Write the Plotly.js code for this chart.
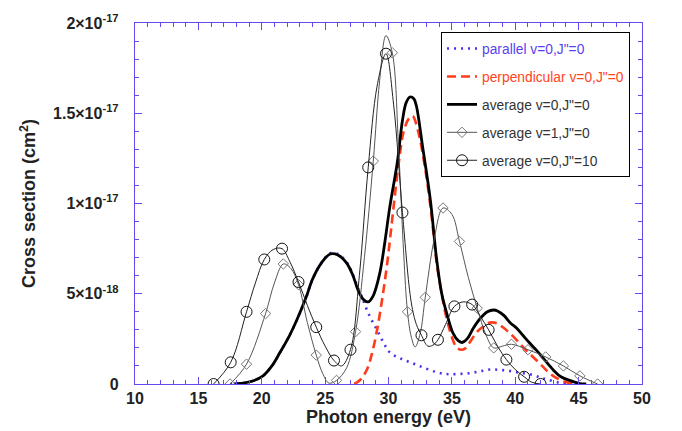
<!DOCTYPE html>
<html>
<head>
<meta charset="utf-8">
<script src="https://cdn.plot.ly/plotly-3.0.1.min.js"></script>
<style>html,body{margin:0;padding:0;background:#fff;}#chart{width:682px;height:431px;}</style>
</head>
<body>
<div id="chart"></div>
<script>
// Values in units of 1e-18 cm^2
var SCALE = 1e-18;

// parallel v=0,J"=0
var parX = [17.5, 18.3, 19.2, 20.1, 20.8, 21.4, 22.2, 22.8, 23.5, 24.0, 24.7, 25.4, 26.0, 26.7, 27.2, 27.6, 28.0, 28.3, 28.7, 29.1, 29.6, 30.1, 31.0, 31.9, 32.8, 33.8, 34.6, 35.4, 36.4, 37.2, 38.0, 38.8, 39.6, 40.4, 41.4, 42.0, 42.5, 43.3, 44.0, 45.0];
var parY = [0, 0.03, 0.15, 0.45, 1.0, 1.7, 2.7, 3.6, 4.8, 5.8, 6.7, 7.25, 7.2, 6.75, 6.05, 5.3, 4.65, 4.1, 3.5, 3.0, 2.3, 1.75, 1.4, 1.15, 0.9, 0.65, 0.55, 0.55, 0.6, 0.7, 0.8, 0.78, 0.72, 0.62, 0.5, 0.35, 0.25, 0.1, 0.03, 0];

// perpendicular v=0,J"=0
var perpX = [27.3, 27.8, 28.3, 28.7, 29.1, 29.5, 29.9, 30.4, 30.8, 31.2, 31.6, 31.9, 32.3, 32.9, 33.4, 33.8, 34.2, 34.5, 35.0, 35.4, 35.8, 36.1, 36.4, 37.0, 37.5, 38.0, 38.6, 39.1, 39.6, 40.1, 40.6, 41.1, 41.7, 42.2, 42.7, 43.2, 43.8, 44.6];
var perpY = [0, 0.25, 0.8, 1.7, 3.0, 4.7, 6.7, 9.8, 12.2, 14.0, 14.7, 14.85, 14.1, 11.9, 9.3, 6.7, 5.0, 3.9, 2.6, 2.0, 1.9, 2.0, 2.3, 2.9, 3.2, 3.4, 3.35, 3.1, 2.8, 2.45, 2.05, 1.7, 1.3, 0.95, 0.6, 0.35, 0.15, 0];

// average v=0,J"=0
var avgX = [17.8, 18.3, 19.2, 20.1, 20.8, 21.4, 22.2, 22.8, 23.5, 24.0, 24.7, 25.4, 26.0, 26.7, 27.2, 27.6, 28.0, 28.4, 28.8, 29.3, 29.7, 30.1, 30.7, 31.1, 31.4, 31.7, 32.0, 32.2, 32.7, 33.3, 33.8, 34.2, 34.6, 35.1, 35.5, 35.8, 36.2, 36.7, 37.2, 37.8, 38.3, 38.6, 39.1, 39.6, 40.1, 40.6, 41.1, 41.7, 42.3, 43.0, 43.6, 44.3, 45.1, 45.6];
var avgY = [0, 0.03, 0.15, 0.45, 1.0, 1.7, 2.7, 3.6, 4.8, 5.8, 6.7, 7.2, 7.15, 6.7, 6.0, 5.2, 4.7, 4.55, 4.9, 6.1, 7.8, 9.8, 12.3, 14.6, 15.6, 15.9, 15.8, 15.4, 13.1, 10.2, 6.9, 5.0, 3.9, 2.8, 2.4, 2.3, 2.5, 3.1, 3.6, 4.0, 4.1, 4.05, 3.8, 3.4, 3.1, 2.7, 2.3, 1.85, 1.35, 0.78, 0.4, 0.2, 0.02, 0];

// average v=1,J"=0 : curve and the energies carrying a diamond symbol
var v1X = [17.5, 18.8, 20.3, 21.0, 21.7, 22.3, 22.9, 23.6, 24.3, 24.8, 25.3, 25.9, 26.7, 27.4, 28.1, 28.8, 29.3, 29.8, 30.3, 30.8, 31.2, 31.5, 31.8, 32.1, 32.5, 32.9, 33.6, 34.3, 35.0, 35.6, 36.3, 37.0, 37.7, 38.3, 39.0, 39.7, 41.0, 42.4, 43.8, 45.1, 46.5];
var v1Y = [0, 1.1, 3.9, 5.6, 6.65, 6.4, 5.5, 3.4, 1.6, 0.6, 0.05, 0.2, 0.9, 2.9, 7.0, 12.35, 16.8, 19.3, 18.35, 13.0, 7.2, 4.0, 2.6, 2.05, 2.8, 4.8, 8.0, 9.75, 9.4, 7.9, 5.9, 4.2, 2.7, 2.0, 2.1, 2.2, 1.9, 1.5, 1.0, 0.45, 0];
var v1MarkX = [17.5, 18.8, 20.3, 21.7, 22.9, 24.3, 25.9, 27.4, 28.8, 30.3, 31.5, 32.9, 34.3, 35.6, 37.0, 38.3, 39.7, 41.0, 42.4, 43.8, 45.1, 46.5];

// average v=0,J"=10 : curve and the energies carrying a circle symbol
var j10X = [16.2, 17.55, 18.8, 19.5, 20.2, 20.9, 21.6, 22.2, 22.9, 23.6, 24.3, 25.0, 25.7, 26.3, 27.0, 27.7, 28.4, 29.1, 29.8, 30.4, 31.1, 31.8, 32.2, 32.6, 33.1, 33.5, 33.9, 34.5, 35.2, 35.9, 36.6, 37.2, 37.9, 38.6, 39.3, 40.0, 40.7, 41.3, 42.0];
var j10Y = [0, 1.2, 4.0, 5.6, 6.9, 7.45, 7.5, 6.8, 5.65, 4.35, 3.15, 2.1, 1.3, 1.0, 1.9, 6.0, 12.0, 16.5, 18.3, 15.5, 9.5, 4.5, 3.3, 2.7, 2.1, 2.15, 2.45, 3.3, 4.3, 4.55, 4.4, 3.8, 3.0, 2.1, 1.35, 0.8, 0.4, 0.1, 0];
var j10MarkX = [16.2, 17.55, 18.8, 20.2, 21.6, 22.9, 24.3, 25.7, 27.0, 28.4, 29.8, 31.1, 32.6, 33.9, 35.2, 36.6, 37.9, 39.3, 40.7, 42.0];

var seriesNames = ['parallel v=0,J"=0', 'perpendicular v=0,J"=0', 'average v=0,J"=0', 'average v=1,J"=0', 'average v=0,J"=10'];
var yTickVals = [0, 5, 10, 15, 20];
var yTickText = ['0', '5×10<sup>-18</sup>', '1×10<sup>-17</sup>', '1.5×10<sup>-17</sup>', '2×10<sup>-17</sup>'];

function sc(a) { return a.map(function (v) { return v * SCALE; }); }
function markColors(xs, marks, col) {
  return xs.map(function (x) { return marks.indexOf(x) >= 0 ? col : 'rgba(0,0,0,0)'; });
}

var BLUE = '#4a2ff0', RED = '#ff3b1c', AXIS = '#6548ee';

var traces = [
  { x: parX, y: sc(parY), mode: 'lines', line: { color: BLUE, width: 2.6, dash: '2px,5px', shape: 'spline' },
    name: '<span style="color:#5a3ff0">' + seriesNames[0] + '</span>', legendgroup: 'g1' },
  { x: perpX, y: sc(perpY), mode: 'lines', line: { color: RED, width: 2.6, dash: '9px,5px', shape: 'spline' },
    name: '<span style="color:#ff4422">' + seriesNames[1] + '</span>', legendgroup: 'g2' },
  { x: avgX, y: sc(avgY), mode: 'lines', line: { color: '#000', width: 2.8, shape: 'spline' },
    name: seriesNames[2], legendgroup: 'g3' },
  { x: v1X, y: sc(v1Y), mode: 'lines+markers', line: { color: '#555', width: 1, shape: 'spline' },
    marker: { symbol: 'diamond-open', size: 8, color: markColors(v1X, v1MarkX, '#777'), line: { width: 1 } },
    name: seriesNames[3], legendgroup: 'g4' },
  { x: j10X, y: sc(j10Y), mode: 'lines+markers', line: { color: '#222', width: 1, shape: 'spline' },
    marker: { symbol: 'circle-open', size: 11, color: markColors(j10X, j10MarkX, '#111'), line: { width: 1 } },
    name: seriesNames[4], legendgroup: 'g5' }
];

var tickFont = { family: 'Liberation Sans, Arial, sans-serif', size: 16, weight: 'bold', color: '#222' };
var titleFont = { family: 'Liberation Sans, Arial, sans-serif', size: 18, weight: 'bold', color: '#222' };

var layout = {
  width: 682, height: 431,
  margin: { l: 135, r: 40, t: 23, b: 47, pad: 0 },
  paper_bgcolor: '#fff', plot_bgcolor: '#fff',
  showlegend: true,
  legend: {
    x: 0.6036, y: 0.975, xanchor: 'left', yanchor: 'top',
    bgcolor: '#fff', bordercolor: '#000', borderwidth: 1,
    font: { family: 'Liberation Sans, Arial, sans-serif', size: 13.8, color: '#333' },
    traceorder: 'grouped', tracegroupgap: 7, itemsizing: 'trace'
  },
  xaxis: {
    range: [10, 50], tickmode: 'linear', tick0: 10, dtick: 5,
    ticks: 'inside', ticklen: 7, tickwidth: 1, tickcolor: AXIS,
    minor: { dtick: 1, tick0: 10, ticks: 'inside', ticklen: 4, tickcolor: AXIS, tickwidth: 1 },
    showline: true, linecolor: AXIS, linewidth: 1.2, mirror: 'ticks',
    showgrid: false, zeroline: false,
    tickfont: tickFont,
    title: { text: 'Photon energy (eV)', font: titleFont, standoff: 3 }
  },
  yaxis: {
    range: [0, 2e-17], tickmode: 'array', tickvals: sc(yTickVals), ticktext: yTickText,
    ticks: 'inside', ticklen: 7, tickwidth: 1, tickcolor: AXIS,
    minor: { dtick: 1e-18, tick0: 0, ticks: 'inside', ticklen: 4, tickcolor: AXIS, tickwidth: 1 },
    showline: true, linecolor: AXIS, linewidth: 1.2, mirror: 'ticks',
    showgrid: false, zeroline: false,
    tickfont: tickFont, ticklabelstandoff: 12,
    title: { text: 'Cross section (cm<sup>2</sup>)', font: titleFont, standoff: 12 }
  }
};

Plotly.newPlot('chart', traces, layout, { staticPlot: true, displayModeBar: false });
</script>
</body>
</html>
